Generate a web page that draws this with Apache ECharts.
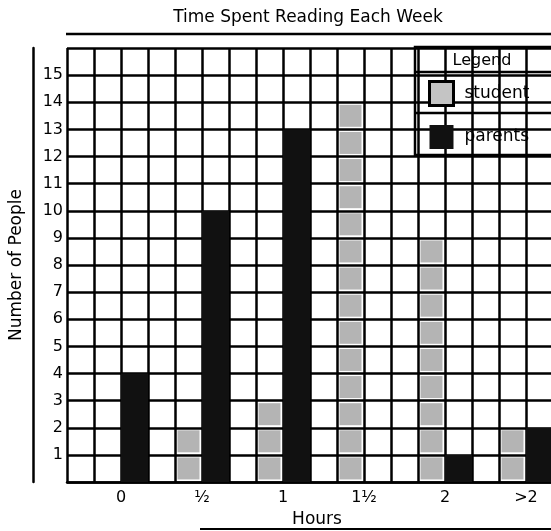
<!DOCTYPE html>
<html>

<head>
  <meta charset="utf-8">
  <script src="https://cdn.jsdelivr.net/npm/echarts@6.0.0/dist/echarts.min.js"></script>
  <style>
    html, body {
      margin: 0;
      background: #fff;
    }
    #chart {
      width: 551px;
      height: 531px;
    }
  </style>
</head>

<body>
  <div id="chart"></div>
  <script>
    // values
    const categories = ['0', '½', '1', '1½', '2', '>2']
    const student = [0, 2, 3, 14, 9, 2]
    const parents = [4, 10, 13, 0, 1, 2]

    const FONT = 'DejaVu Sans'
    const LINE = 2.5

    // every category takes 3 grid columns: empty, student, parents
    const columns = []
    const studentCols = []
    const parentsCols = []
    categories.forEach((c, i) => {
      columns.push(c + ':gap', c + ':student', c + ':parents')
      studentCols.push('-', student[i] || '-', '-')
      parentsCols.push('-', '-', parents[i] || '-')
    })

    const chart = echarts.init(document.getElementById('chart'))

    const option = {
      animation: false,
      backgroundColor: '#fff',
      textStyle: { fontFamily: FONT, color: '#000' },
      title: {
        text: 'Time Spent Reading Each Week',
        left: 308,
        textAlign: 'center',
        top: 9,
        padding: 0,
        textStyle: { fontFamily: FONT, fontSize: 17, fontWeight: 'normal', color: '#000' }
      },
      grid: { left: 67, top: 48, width: 486, height: 434, outerBoundsMode: 'none', containLabel: false },
      legend: {
        orient: 'vertical',
        left: 428,
        top: 80,
        padding: 0,
        itemWidth: 24,
        itemHeight: 24,
        itemGap: 18,
        z: 120,
        selectedMode: false,
        textStyle: { fontFamily: FONT, fontSize: 17, color: '#000', padding: [0, 0, 0, 6] },
        data: [
          { name: 'student', icon: 'rect', itemStyle: { color: '#c4c4c4', borderColor: '#000', borderWidth: 3 } },
          { name: 'parents', icon: 'rect', itemStyle: { color: '#111' } }
        ]
      },
      xAxis: {
        type: 'category',
        data: columns,
        boundaryGap: true,
        axisLine: { lineStyle: { color: '#000', width: LINE } },
        axisTick: { show: false },
        splitLine: { show: true, interval: 0, lineStyle: { color: '#000', width: LINE } },
        axisLabel: {
          interval: 0,
          margin: 8,
          fontFamily: FONT,
          fontSize: 16,
          color: '#000',
          // centre the label under the student/parents pair
          padding: [0, 0, 0, 27],
          formatter: (v, idx) => idx % 3 === 1 ? categories[(idx - 1) / 3] : ''
        },
        name: 'Hours',
        nameLocation: 'middle',
        nameGap: 21,
        nameTextStyle: { fontFamily: FONT, fontSize: 17, color: '#000', padding: [0, 0, 0, 14] }
      },
      yAxis: {
        type: 'value',
        min: 0,
        max: 16,
        interval: 1,
        offset: 34,
        axisLine: { show: true, lineStyle: { color: '#000', width: LINE } },
        axisTick: { show: false },
        splitLine: { show: true, lineStyle: { color: '#000', width: LINE } },
        axisLabel: {
          inside: true,
          align: 'right',
          margin: 30,
          fontFamily: FONT,
          fontSize: 16,
          color: '#000',
          formatter: v => (v > 0 && v < 16) ? String(v) : ''
        },
        name: 'Number of People',
        nameLocation: 'middle',
        nameGap: 8,
        nameTextStyle: { fontFamily: FONT, fontSize: 17, color: '#000' }
      },
      series: [
        {
          name: 'parents',
          type: 'bar',
          data: parentsCols,
          barWidth: '100%',
          itemStyle: { color: '#111' }
        },
        {
          name: 'student',
          type: 'pictorialBar',
          data: studentCols,
          symbol: 'rect',
          symbolSize: [22, 22],
          symbolRepeat: true,
          symbolMargin: '3!',
          itemStyle: { color: '#b4b4b4' }
        }
      ],
      graphic: [
        // legend frame
        {
          type: 'group',
          z: 100,
          children: [
            { type: 'rect', shape: { x: 415, y: 47, width: 140, height: 108 }, style: { fill: '#fff', stroke: '#000', lineWidth: LINE } },
            { type: 'line', shape: { x1: 415, y1: 72, x2: 551, y2: 72 }, style: { stroke: '#000', lineWidth: LINE } },
            { type: 'line', shape: { x1: 415, y1: 113, x2: 551, y2: 113 }, style: { stroke: '#000', lineWidth: LINE } },
            { type: 'text', style: { x: 482, y: 61, text: 'Legend', fontFamily: FONT, fontSize: 16, fill: '#000', align: 'center', verticalAlign: 'middle' } }
          ]
        },
        // rule under the title and at the foot
        { type: 'line', z: 100, shape: { x1: 66, y1: 34, x2: 551, y2: 34 }, style: { stroke: '#000', lineWidth: LINE } },
        { type: 'line', z: 100, shape: { x1: 200, y1: 529, x2: 551, y2: 529 }, style: { stroke: '#000', lineWidth: 2 } }
      ]
    }

    chart.setOption(option)
  </script>
</body>

</html>
